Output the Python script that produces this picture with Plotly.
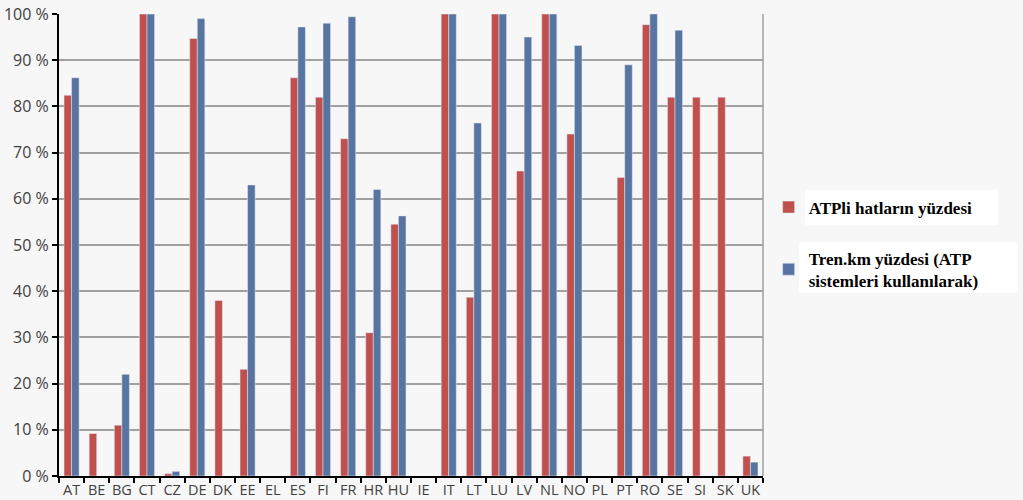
import plotly.graph_objects as go

countries = ["AT", "BE", "BG", "CT", "CZ", "DE", "DK", "EE", "EL", "ES", "FI", "FR", "HR", "HU",
             "IE", "IT", "LT", "LU", "LV", "NL", "NO", "PL", "PT", "RO", "SE", "SI", "SK", "UK"]
atp_lines = [82.4, 9.2, 11.0, 100, 0.5, 94.7, 38.0, 23.1, None, 86.2, 82.0, 73.0, 31.0, 54.5,
             None, 100, 38.7, 100, 66.0, 100, 74.0, None, 64.6, 97.7, 82.0, 82.0, 82.0, 4.3]
train_km = [86.2, None, 22.0, 100, 1.0, 99.0, None, 63.0, None, 97.2, 98.0, 99.4, 62.0, 56.3,
            None, 100, 76.4, 100, 95.0, 100, 93.2, None, 89.0, 100, 96.5, None, None, 3.0]
series_names = ["<b>ATPli hatların yüzdesi</b>",
                "<b>Tren.km yüzdesi (ATP<br>sistemleri kullanılarak)</b>"]
y_ticks = [0, 10, 20, 30, 40, 50, 60, 70, 80, 90, 100]
y_tick_text = [f"{v} %" for v in y_ticks]

RED = "#C0504D"
BLUE = "#5874A0"
BG = "#F7F7F7"

fig = go.Figure()
fig.add_trace(go.Bar(x=countries, y=atp_lines, name=series_names[0], marker_color=RED,
                     legendgroup="a"))
fig.add_trace(go.Bar(x=countries, y=train_km, name=series_names[1], marker_color=BLUE,
                     legendgroup="b"))

fig.update_layout(
    width=1023, height=500,
    margin=dict(l=59, r=260, t=14, b=24, autoexpand=False),
    paper_bgcolor=BG, plot_bgcolor=BG,
    barmode="group", bargap=0.4, bargroupgap=0,
    font=dict(family="Open Sans", size=14, color="#404040"),
    showlegend=True,
    legend=dict(x=1.008, y=0.62, xanchor="left", yanchor="top",
                font=dict(family="Liberation Serif", size=17, color="#000000"),
                bgcolor="rgba(0,0,0,0)", tracegroupgap=26, traceorder="grouped",
                itemwidth=30),
    xaxis=dict(type="category", showline=True, linecolor="#000000", linewidth=2,
               ticks="outside", tickson="boundaries", ticklen=5, tickwidth=2,
               tickcolor="#000000", showgrid=False, tickangle=0, automargin=False,
               tickfont=dict(size=14.5, color="#404040")),
    yaxis=dict(range=[0, 100], tickmode="array", tickvals=y_ticks, ticktext=y_tick_text,
               showline=True, linecolor="#000000", linewidth=2, automargin=False,
               ticks="outside", ticklen=5, tickwidth=2, tickcolor="#000000",
               showgrid=True, gridcolor="#A0A0A0", gridwidth=1.5,
               zeroline=False, tickfont=dict(size=16, color="#404040")),
    shapes=[
        dict(type="line", xref="paper", yref="paper", x0=1, x1=1, y0=0, y1=1,
             line=dict(color="#A0A0A0", width=1.5)),
        dict(type="rect", xref="paper", yref="paper", x0=1.060, x1=1.334, y0=0.543, y1=0.619,
             fillcolor="#FFFFFF", line=dict(width=0), layer="below"),
        dict(type="rect", xref="paper", yref="paper", x0=1.051, x1=1.361, y0=0.396, y1=0.506,
             fillcolor="#FFFFFF", line=dict(width=0), layer="below"),
    ],
)

fig.write_html("out.html")
